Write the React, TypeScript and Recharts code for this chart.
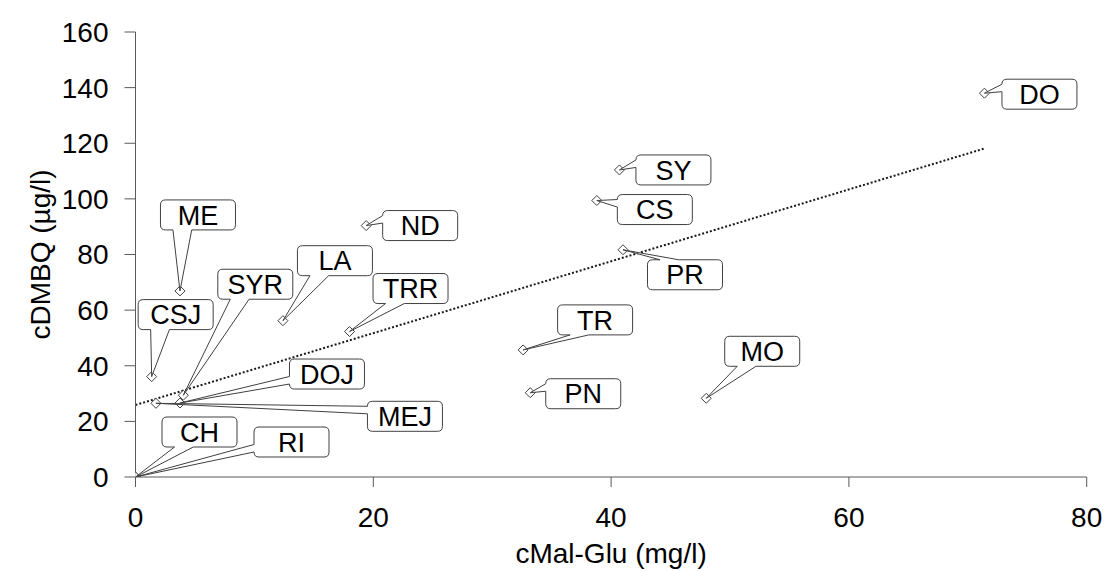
import React from 'react';
import { ScatterChart, Scatter, XAxis, YAxis, ReferenceLine } from 'recharts';

// ---- data ----
const sampleNames = ['CH', 'RI', 'CSJ', 'MEJ', 'DOJ', 'SYR', 'ME', 'LA', 'TRR', 'ND', 'TR', 'PN', 'SY', 'CS', 'PR', 'MO', 'DO'];
const malGlu = [0, 0, 1.36, 1.72, 3.74, 4.02, 3.74, 12.4, 18.0, 19.4, 32.6, 33.2, 40.7, 38.8, 41.0, 48.0, 71.4];
const dmbq = [0, 0, 36.1, 26.5, 26.6, 29.4, 66.9, 56.2, 52.3, 90.4, 45.7, 30.3, 110.4, 99.4, 81.7, 28.3, 138.0];
const xTicks = [0, 20, 40, 60, 80];
const yTicks = [0, 20, 40, 60, 80, 100, 120, 140, 160];
const xTitle = 'cMal-Glu (mg/l)';
const yTitle = 'cDMBQ (µg/l)';

// label callout placement (pixel offset of box centre from the point)
const labelOffsets: Record<string, [number, number]> = {
  CH: [64, -45], RI: [156, -35], CSJ: [24, -62], MEJ: [249, 13], DOJ: [147, -29],
  SYR: [72, -111], ME: [18, -76], LA: [52, -60], TRR: [61, -43], ND: [54, 0],
  TR: [72, -30], PN: [53, 1], SY: [54, 0], CS: [58, 9], PR: [62, 25], MO: [56, -47], DO: [55, 1],
};

const data = sampleNames.map((name, i) => ({ name, x: malGlu[i], y: dmbq[i] }));

// linear regression trendline
const n = malGlu.length;
const mx = malGlu.reduce((a, b) => a + b, 0) / n;
const my = dmbq.reduce((a, b) => a + b, 0) / n;
let sxy = 0, sxx = 0;
for (let i = 0; i < n; i++) { sxy += (malGlu[i] - mx) * (dmbq[i] - my); sxx += (malGlu[i] - mx) ** 2; }
const slope = sxy / sxx;
const intercept = my - slope * mx;
const xMin = Math.min(...malGlu);
const xMax = Math.max(...malGlu);

const FONT = 'Liberation Sans, Arial, sans-serif';
const BOX_W = 75;
const BOX_H = 30;

function calloutPath(l: number, t: number, w: number, h: number, px: number, py: number) {
  const r = 5;
  const R = l + w, B = t + h;
  const hc = l + w / 2, vc = t + h / 2;
  const dx = px - hc, dy = py - vc;
  const dq = (dx * h) / w;
  let side: string;
  let a: number, b: number;
  if (Math.abs(dy) > Math.abs(dq)) {
    side = dy > 0 ? 'bottom' : 'top';
    a = l + (w * (dx > 0 ? 7 : 2)) / 12;
    b = l + (w * (dx > 0 ? 10 : 5)) / 12;
  } else {
    side = dx > 0 ? 'right' : 'left';
    a = t + (h * (dy > 0 ? 7 : 2)) / 12;
    b = t + (h * (dy > 0 ? 10 : 5)) / 12;
  }
  let d = `M${l + r},${t}`;
  if (side === 'top') d += ` L${a},${t} L${px},${py} L${b},${t}`;
  d += ` L${R - r},${t} Q${R},${t} ${R},${t + r}`;
  if (side === 'right') d += ` L${R},${a} L${px},${py} L${R},${b}`;
  d += ` L${R},${B - r} Q${R},${B} ${R - r},${B}`;
  if (side === 'bottom') d += ` L${b},${B} L${px},${py} L${a},${B}`;
  d += ` L${l + r},${B} Q${l},${B} ${l},${B - r}`;
  if (side === 'left') d += ` L${l},${b} L${px},${py} L${l},${a}`;
  d += ` L${l},${t + r} Q${l},${t} ${l + r},${t} Z`;
  return d;
}

const Diamond = (props: any) => {
  const { cx, cy } = props;
  if (cx == null || cy == null) return null;
  const s = 5;
  return (
    <path
      d={`M${cx},${cy - s} L${cx + s},${cy} L${cx},${cy + s} L${cx - s},${cy} Z`}
      fill="#fff"
      stroke="#404040"
      strokeWidth={1}
    />
  );
};

const Callout = (props: any) => {
  const { cx, cy, payload } = props;
  if (cx == null || cy == null || !payload) return null;
  const off = labelOffsets[payload.name] || [50, 0];
  const bx = cx + off[0];
  const by = cy + off[1];
  const l = bx - BOX_W / 2;
  const t = by - BOX_H / 2;
  return (
    <g>
      <path d={calloutPath(l, t, BOX_W, BOX_H, cx, cy)} fill="#fff" stroke="#404040" strokeWidth={1} />
      <text x={bx} y={by} dy="0.36em" textAnchor="middle" fontFamily={FONT} fontSize={27} fill="#000">
        {payload.name}
      </text>
    </g>
  );
};

const XTitle = (props: any) => {
  const vb = props.viewBox || { x: 0, y: 0, width: 0, height: 0 };
  return (
    <text x={vb.x + vb.width / 2} y={563} textAnchor="middle" fontFamily={FONT} fontSize={28} fill="#000">
      {xTitle}
    </text>
  );
};

const YTitle = (props: any) => {
  const vb = props.viewBox || { x: 0, y: 0, width: 0, height: 0 };
  const cy = vb.y + vb.height / 2;
  const cx = 40;
  return (
    <text
      x={cx}
      y={cy}
      dy="0.36em"
      textAnchor="middle"
      transform={`rotate(-90, ${cx}, ${cy})`}
      fontFamily={FONT}
      fontSize={28}
      fill="#000"
    >
      {yTitle}
    </text>
  );
};

export default function App() {
  return (
    <div style={{ position: 'absolute', left: 0, top: 0, width: 1107, height: 571, background: '#fff' }}>
      <ScatterChart width={1107} height={571} margin={{ top: 32, right: 20.3, bottom: 0, left: 35.5 }}>
        <XAxis
          type="number"
          dataKey="x"
          domain={[0, 80]}
          ticks={xTicks}
          height={94}
          allowDataOverflow
          stroke="#595959"
          tickSize={10}
          tickMargin={20}
          tick={{ fill: '#000', fontSize: 28, fontFamily: FONT }}
          label={<XTitle />}
        />
        <YAxis
          type="number"
          dataKey="y"
          domain={[0, 160]}
          ticks={yTicks}
          width={100}
          allowDataOverflow
          stroke="#595959"
          tickSize={11}
          tickMargin={16}
          tick={{ fill: '#000', fontSize: 28, fontFamily: FONT }}
          label={<YTitle />}
        />
        <ReferenceLine
          segment={[
            { x: xMin, y: intercept + slope * xMin },
            { x: xMax, y: intercept + slope * xMax },
          ]}
          stroke="#1a1a1a"
          strokeWidth={2}
          strokeDasharray="2 2"
        />
        <Scatter data={data} shape={<Diamond />} isAnimationActive={false} />
        <Scatter data={data} shape={<Callout />} isAnimationActive={false} />
      </ScatterChart>
    </div>
  );
}
